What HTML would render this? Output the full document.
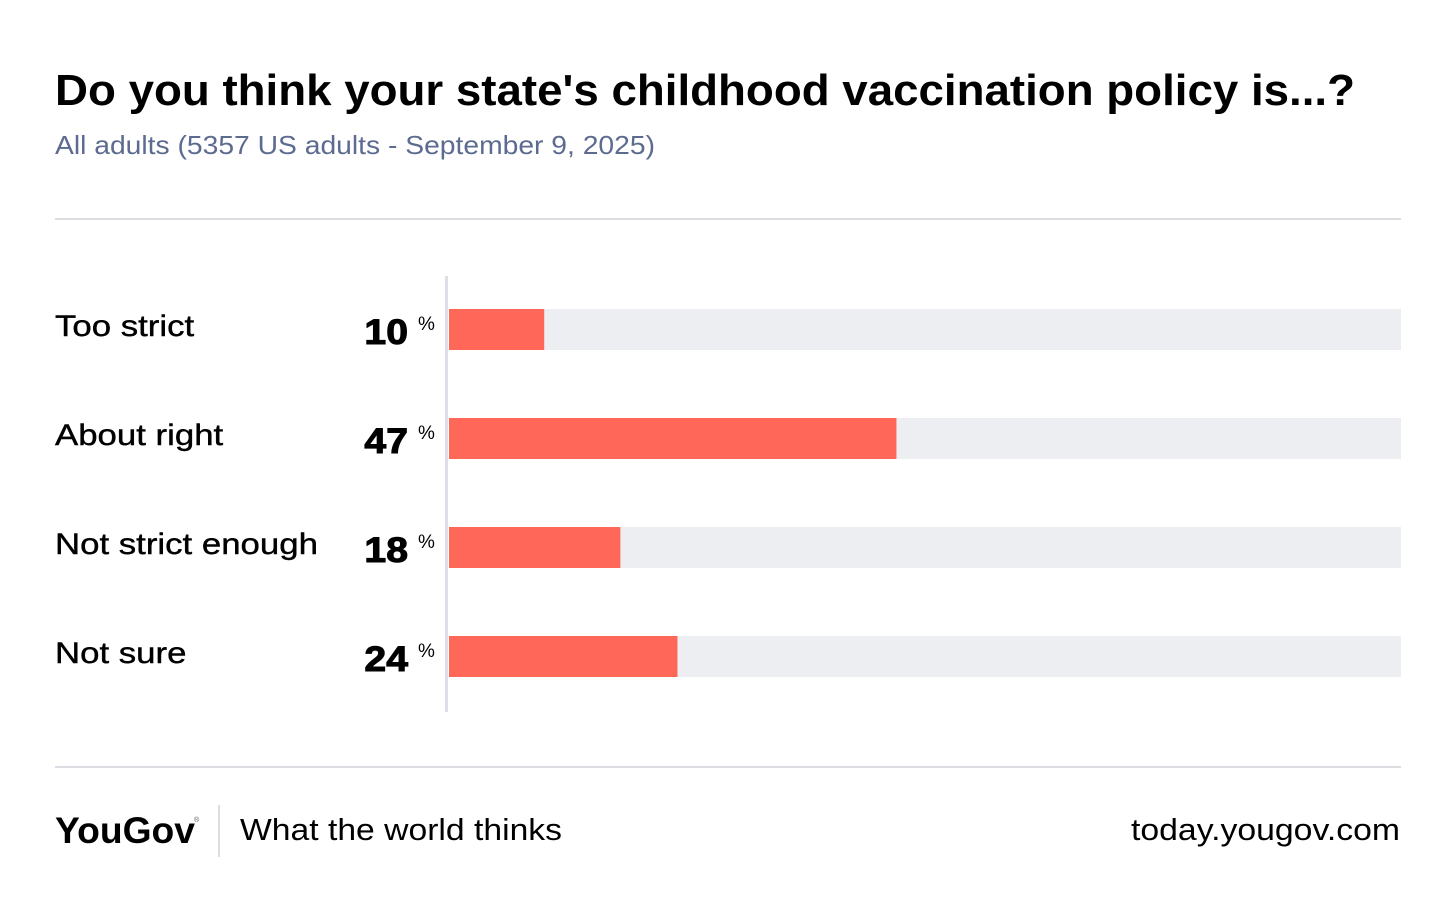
<!DOCTYPE html>
<html><head><meta charset="utf-8"><style>
html,body{margin:0;padding:0;background:#fff;}
svg{display:block;font-family:"Liberation Sans",sans-serif;}
</style></head><body>
<svg id="chart" width="1456" height="912" viewBox="0 0 1456 912">
<text x="55" y="105" font-size="44" font-weight="bold" fill="#000" textLength="1300" lengthAdjust="spacingAndGlyphs">Do you think your state's childhood vaccination policy is...?</text>
<text x="55" y="154" font-size="26" fill="#5c6b8f" textLength="600" lengthAdjust="spacingAndGlyphs">All adults (5357 US adults - September 9, 2025)</text>
<rect x="55" y="218" width="1346" height="2" fill="#dcdde3"/>
<rect x="445" y="276" width="3" height="436" fill="#dcdfe6"/>
<g id="bars"></g>
<rect x="55" y="766" width="1346" height="2" fill="#dcdde3"/>
<text x="55" y="843" font-size="37" font-weight="bold" fill="#000" textLength="140" lengthAdjust="spacingAndGlyphs">YouGov</text>
<text x="194" y="822" font-size="7" fill="#555">®</text>
<rect x="218" y="805" width="2" height="52" fill="#dcdde3"/>
<text x="240" y="840" font-size="31" fill="#000" textLength="322" lengthAdjust="spacingAndGlyphs">What the world thinks</text>
<text x="1131" y="840" font-size="31" fill="#000" textLength="269" lengthAdjust="spacingAndGlyphs">today.yougov.com</text>
</svg>
<script>
const categories = ["Too strict","About right","Not strict enough","Not sure"];
const values = [10,47,18,24];
const valueLabels = ["10","47","18","24"];
const ns="http://www.w3.org/2000/svg";
const g=document.getElementById('bars');
const x0=449, fullW=952;
function xScale(v){return fullW*v/100;}
function yRow(i){return 309+i*109;}
function mk(tag,attrs,parent){const e=document.createElementNS(ns,tag);for(const k in attrs)e.setAttribute(k,attrs[k]);parent.appendChild(e);return e;}
categories.forEach((c,i)=>{
  const y=yRow(i);
  const lab=mk('text',{x:55,y:y+27,'font-size':30,fill:'#000',transform:'translate(55 0) scale(1.16 1) translate(-55 0)','stroke':'#000','stroke-width':0.4},g);
  lab.textContent=c;
  
  
  const num=mk('text',{x:408,y:y+35,'font-size':35,'font-weight':'bold','text-anchor':'end',fill:'#000',stroke:'#000','stroke-width':1,transform:'translate(408 0) scale(1.12 1) translate(-408 0)'},g);
  num.textContent=valueLabels[i];
  
  
  const pct=mk('text',{x:418,y:y+21,'font-size':19,fill:'#000'},g);
  pct.textContent='%';
  
  
  const bg=mk('rect',{x:x0,y:y,width:fullW,height:41,fill:'#edeef2'},g);
  
  
  const b=mk('rect',{x:x0,y:y,width:xScale(values[i]),height:41,fill:'#ff6759'},g);
  
  
});
</script>
</body></html>
